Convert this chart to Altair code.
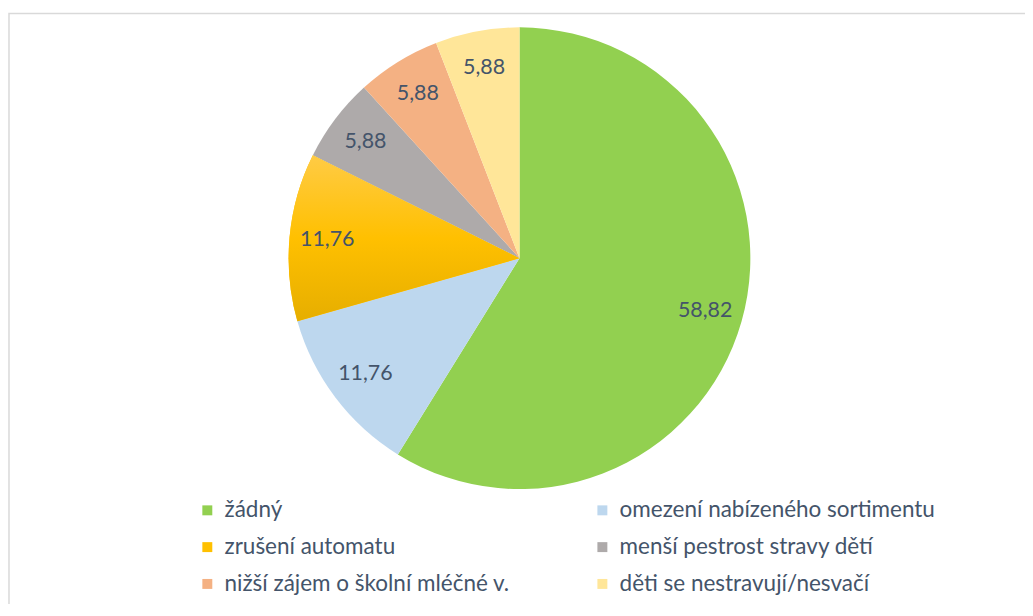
import altair as alt
import pandas as pd

categories = [
    "žádný",
    "omezení nabízeného sortimentu",
    "zrušení automatu",
    "menší pestrost stravy dětí",
    "nižší zájem o školní mléčné v.",
    "děti se nestravují/nesvačí",
]
values = [58.82, 11.76, 11.76, 5.88, 5.88, 5.88]
colors = ["#92D050", "#BDD7EE", "#FFC000", "#AEAAAA", "#F4B183", "#FFE699"]

df = pd.DataFrame({"cat": categories, "val": values, "order": list(range(len(categories)))})

FONT = "Lato"
TEXT_COLOR = "#44546A"
CX, CY, R = 514, 250, 232

base = alt.Chart(df).encode(
    theta=alt.Theta("val:Q", stack=True),
    order=alt.Order("order:Q"),
    x=alt.value(CX),
    y=alt.value(CY),
)

pie = base.mark_arc(radius=R).encode(
    color=alt.Color(
        "cat:N",
        scale=alt.Scale(domain=categories, range=colors),
        legend=alt.Legend(
            title=None,
            orient="none",
            direction="horizontal",
            legendX=189,
            legendY=492,
            columns=2,
            symbolType="square",
            symbolSize=100,
            symbolStrokeWidth=0,
            labelFont=FONT,
            labelFontSize=22.6,
            labelColor=TEXT_COLOR,
            labelOffset=6,
            labelLimit=400,
            rowPadding=14,
            columnPadding=81,
            padding=0,
        ),
    )
)

gradient = alt.LinearGradient(
    gradient="linear",
    x1=0, y1=0, x2=0, y2=1,
    stops=[
        alt.GradientStop(offset=0, color="#FFCB45"),
        alt.GradientStop(offset=0.5, color="#FFC000"),
        alt.GradientStop(offset=1, color="#E6AE00"),
    ],
)

overlay = base.mark_arc(radius=R, fill=gradient).encode(
    opacity=alt.condition(alt.datum.cat == "zrušení automatu", alt.value(1), alt.value(0))
)

labels = base.transform_calculate(
    lbl="replace(format(datum.val, '.2f'), '.', ',')"
).mark_text(radius=194, font=FONT, fontSize=21.5, color=TEXT_COLOR).encode(
    text="lbl:N"
)

frame = alt.Chart(df).mark_rect(fill="transparent", stroke="#D9D9D9", strokeWidth=1.5).encode(
    x=alt.value(1), x2=alt.value(1100), y=alt.value(4), y2=alt.value(700)
).transform_filter(alt.datum.order == 0)

chart = alt.layer(frame, pie, overlay, labels).properties(
    width=1022,
    height=596,
    autosize=alt.AutoSizeParams(type="none"),
    padding=0,
).configure_view(stroke=None)

chart.save("out.html", embed_options={"renderer": "svg", "actions": False})
